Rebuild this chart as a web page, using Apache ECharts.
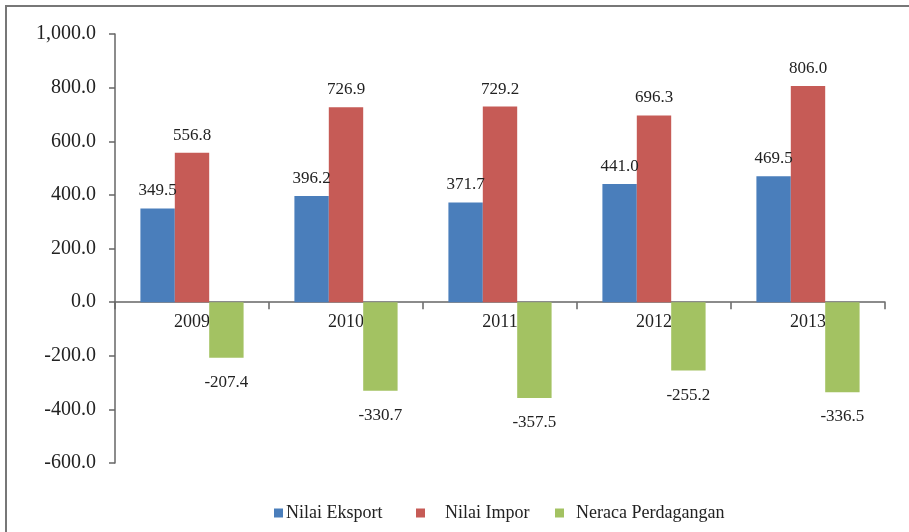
<!DOCTYPE html>
<html>
<head>
<meta charset="utf-8">
<script src="https://cdn.jsdelivr.net/npm/echarts@6/dist/echarts.min.js"></script>
<style>html,body{margin:0;padding:0;background:#fff;}#c{width:909px;height:532px;}</style>
</head>
<body>
<div id="c"></div>
<script>
const categories = ['2009', '2010', '2011', '2012', '2013'];
const eksport = [349.5, 396.2, 371.7, 441.0, 469.5];
const impor = [556.8, 726.9, 729.2, 696.3, 806.0];
const neraca = [-207.4, -330.7, -357.5, -255.2, -336.5];
const yTicks = { min: -600, max: 1000, interval: 200 };
const seriesNames = ['Nilai Eksport', 'Nilai Impor', 'Neraca Perdagangan'];

const font = 'Liberation Serif';
const colors = ['#4A7EBB', '#C65B56', '#A3C262'];

function fmtAxis(v) {
  const s = Math.abs(v).toFixed(1);
  const parts = s.split('.');
  parts[0] = parts[0].replace(/\B(?=(\d{3})+(?!\d))/g, ',');
  return (v < 0 ? '-' : '') + parts.join('.');
}

const chart = echarts.init(document.getElementById('c'), null, { renderer: 'canvas' });

const gridTop = 34, gridBottom = 69, H = 532;
const plotH = H - gridTop - gridBottom;
const zeroFromBottom = plotH * (0 - yTicks.min) / (yTicks.max - yTicks.min);

const labelStyle = {
  show: true,
  fontFamily: font,
  fontSize: 17,
  color: '#222',
  formatter: p => p.value.toFixed(1)
};

const legendBase = {
  bottom: 5,
  itemWidth: 9,
  itemHeight: 9,
  icon: 'rect',
  textStyle: { fontFamily: font, fontSize: 18, color: '#222' },
  selectedMode: false
};

chart.setOption({
  animation: false,
  color: colors,
  grid: { left: 115, right: 24, top: gridTop, bottom: gridBottom, containLabel: false },
  graphic: [{
    type: 'rect',
    shape: { x: 6, y: 6, width: 940, height: 560 },
    style: { fill: 'none', stroke: '#777', lineWidth: 2 },
    silent: true,
    z: 100
  }],
  legend: [
    Object.assign({}, legendBase, { left: 269, data: [seriesNames[0]], textStyle: Object.assign({}, legendBase.textStyle, { padding: [0, 0, 0, -2] }) }),
    Object.assign({}, legendBase, { left: 411, data: [seriesNames[1]], textStyle: Object.assign({}, legendBase.textStyle, { padding: [0, 0, 0, 15] }) }),
    Object.assign({}, legendBase, { left: 550, data: [seriesNames[2]], textStyle: Object.assign({}, legendBase.textStyle, { padding: [0, 0, 0, 7] }) })
  ],
  xAxis: {
    type: 'category',
    data: categories,
    offset: -zeroFromBottom,
    axisLine: { onZero: false, lineStyle: { color: '#666', width: 1.5 } },
    axisTick: { show: true, length: 7, lineStyle: { color: '#666', width: 1.5 } },
    axisLabel: { fontFamily: font, fontSize: 18, color: '#222', margin: 11 },
    splitLine: { show: false }
  },
  yAxis: {
    type: 'value',
    min: yTicks.min,
    max: yTicks.max,
    interval: yTicks.interval,
    axisLine: { show: true, lineStyle: { color: '#666', width: 1.5 } },
    axisTick: { show: true, length: 6, lineStyle: { color: '#666', width: 1.5 } },
    axisLabel: { fontFamily: font, fontSize: 20, color: '#222', margin: 19, formatter: fmtAxis },
    splitLine: { show: false }
  },
  series: [
    { name: seriesNames[0], type: 'bar', data: eksport, barGap: '0%', barCategoryGap: '33%',
      label: Object.assign({}, labelStyle, { position: 'top', distance: 9 }) },
    { name: seriesNames[1], type: 'bar', data: impor, barGap: '0%', barCategoryGap: '33%',
      label: Object.assign({}, labelStyle, { position: 'top', distance: 9 }) },
    { name: seriesNames[2], type: 'bar', data: neraca, barGap: '0%', barCategoryGap: '33%',
      label: Object.assign({}, labelStyle, { position: 'bottom', distance: 16 }) }
  ]
});
</script>
</body>
</html>
